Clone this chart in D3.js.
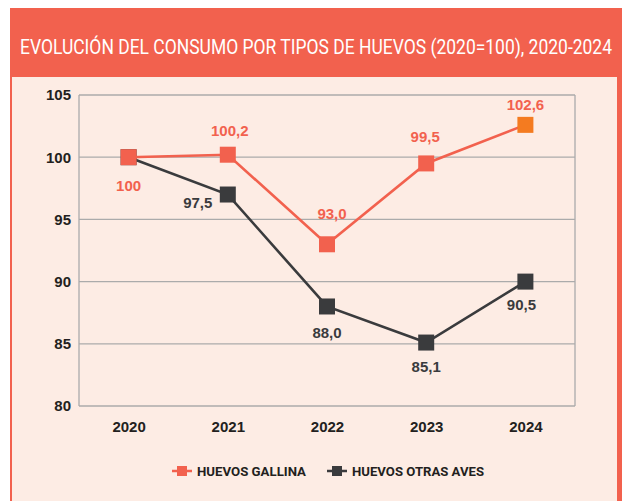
<!DOCTYPE html>
<html>
<head>
<meta charset="utf-8">
<script src="https://cdn.jsdelivr.net/npm/d3@7/dist/d3.min.js"></script>
<style>
  html, body { margin: 0; padding: 0; background: #ffffff; }
  svg { display: block; }
</style>
</head>
<body>
<div id="chart"></div>
<script>
// data (marker positions as drawn, labels as printed)
const years = ["2020", "2021", "2022", "2023", "2024"];
const gallina = [100, 100.2, 93.0, 99.5, 102.6];
const otrasAves = [100, 97.0, 88.0, 85.1, 90.0];
const gallinaLabels = ["100", "100,2", "93,0", "99,5", "102,6"];
const otrasLabels = [null, "97,5", "88,0", "85,1", "90,5"];
const yTicks = [80, 85, 90, 95, 100, 105];
const seriesNames = ["HUEVOS GALLINA", "HUEVOS OTRAS AVES"];

const W = 622, H = 501;
const RED = "#F2614E", ORANGE = "#F47B20", DARK = "#3A3B3D", BG = "#FDECE4";
const margin = { top: 95, right: 47, bottom: 95, left: 79 };

const svg = d3.select("#chart").append("svg").attr("width", W).attr("height", H);

// panel + header
svg.append("rect").attr("x", 10).attr("y", 8).attr("width", W - 10).attr("height", H - 8).attr("fill", RED);
svg.append("rect").attr("x", 12).attr("y", 77).attr("width", 605).attr("height", H - 77).attr("fill", BG);
// condensed title: smaller font stretched vertically so it fits the header width
svg.append("text")
    .attr("transform", "translate(20,54) scale(1,1.14)")
    .attr("fill", "#fff")
    .attr("textLength", 592).attr("lengthAdjust", "spacingAndGlyphs")
    .style("font-family", "'Liberation Sans Narrow', 'Roboto', sans-serif")
    .style("font-size", "17.5px")
    .text("EVOLUCIÓN DEL CONSUMO POR TIPOS DE HUEVOS (2020=100), 2020-2024");

const w = W - margin.left - margin.right;   // 496
const h = H - margin.top - margin.bottom;   // 311

const g = svg.append("g").attr("transform", `translate(${margin.left},${margin.top})`);

const x = d3.scalePoint().domain(years).range([0, w]).padding(0.5);
const y = d3.scaleLinear().domain([80, 105]).range([h, 0]);

// grid box
g.selectAll(".grid").data(yTicks).join("line").attr("class", "grid")
    .attr("x1", 0).attr("x2", w)
    .attr("y1", d => y(d)).attr("y2", d => y(d))
    .attr("stroke", "#ABABAB").attr("stroke-width", 1.3);
g.append("line").attr("x1", 0).attr("x2", 0).attr("y1", 0).attr("y2", h).attr("stroke", "#ABABAB").attr("stroke-width", 1.3);
g.append("line").attr("x1", w).attr("x2", w).attr("y1", 0).attr("y2", h).attr("stroke", "#ABABAB").attr("stroke-width", 1.3);

// axes
const yAxis = g.append("g").call(d3.axisLeft(y).tickValues(yTicks).tickSize(0).tickPadding(8));
const xAxis = g.append("g").attr("transform", `translate(0,${h})`).call(d3.axisBottom(x).tickSize(0).tickPadding(15));
[yAxis, xAxis].forEach(a => {
    a.select(".domain").remove();
    a.selectAll("text")
        .attr("fill", "#231F20")
        .style("font-family", "'Liberation Sans', Arial, sans-serif")
        .style("font-weight", "700")
        .style("font-size", "15px");
});

const line = d3.line().x((d, i) => x(years[i])).y(d => y(d));

function drawSeries(values, color, cls) {
    g.append("path").datum(values)
        .attr("fill", "none").attr("stroke", color).attr("stroke-width", 2.6)
        .attr("d", line);
    g.selectAll("." + cls).data(values).join("rect").attr("class", cls)
        .attr("x", (d, i) => x(years[i]) - 8).attr("y", d => y(d) - 8)
        .attr("width", 16).attr("height", 16)
        .attr("fill", color);
}

drawSeries(otrasAves, DARK, "m-otras");
drawSeries(gallina, RED, "m-gallina");
// last gallina marker is orange in the original
g.selectAll(".m-gallina").filter((d, i) => i === years.length - 1).attr("fill", ORANGE);

// value labels: offsets relative to each marker
const gallinaOff = [[0, 29], [2, -24], [5, -31], [-1, -27], [0, -20]];
const otrasOff = [null, [-30, 8], [0, 26], [0, 24], [-4, 23]];

function drawLabels(values, labels, offs, color) {
    g.selectAll(null).data(values.map((v, i) => ({ v, i })).filter(d => labels[d.i]))
        .join("text")
        .attr("x", d => x(years[d.i]) + offs[d.i][0])
        .attr("y", d => y(d.v) + offs[d.i][1])
        .attr("dy", "0.35em")
        .attr("text-anchor", "middle")
        .attr("fill", color)
        .style("font-family", "'Liberation Sans', Arial, sans-serif")
        .style("font-weight", "700")
        .style("font-size", "15px")
        .text(d => labels[d.i]);
}
drawLabels(gallina, gallinaLabels, gallinaOff, RED);
drawLabels(otrasAves, otrasLabels, otrasOff, DARK);

// legend
const legendItems = [
    { name: seriesNames[0], color: RED, x: 172, len: 109 },
    { name: seriesNames[1], color: DARK, x: 327, len: 132 }
];
const lg = svg.append("g").attr("transform", "translate(0,471)");
legendItems.forEach(it => {
    lg.append("line").attr("x1", it.x).attr("x2", it.x + 20).attr("y1", 0).attr("y2", 0)
        .attr("stroke", it.color).attr("stroke-width", 2.5);
    lg.append("rect").attr("x", it.x + 5).attr("y", -5).attr("width", 10).attr("height", 10).attr("fill", it.color);
    lg.append("text").attr("x", it.x + 25).attr("y", 0).attr("dy", "0.35em")
        .attr("fill", "#231F20")
        .attr("textLength", it.len).attr("lengthAdjust", "spacingAndGlyphs")
        .style("font-family", "'Liberation Sans Narrow', 'Roboto', sans-serif")
        .style("font-weight", "700")
        .style("font-size", "13.5px")
        .text(it.name);
});
</script>
</body>
</html>
